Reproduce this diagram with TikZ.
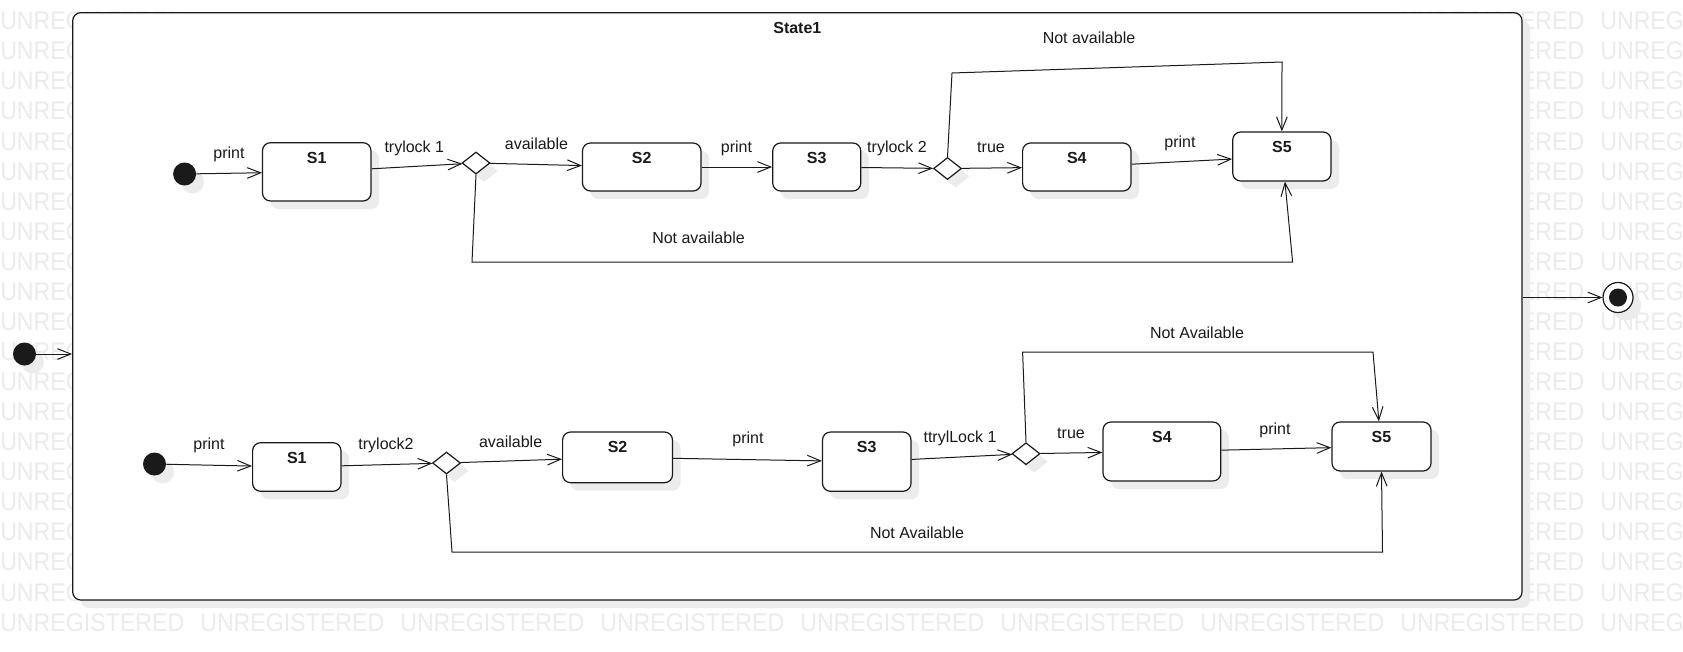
\documentclass[tikz,border=0pt]{standalone}
\usepackage{fontspec}
\setmainfont{Liberation Sans}
\newfontfamily\wmfont[FakeStretch=0.91]{Liberation Sans}
\usetikzlibrary{arrows.meta,shapes.geometric,shadows,calc}

\definecolor{ink}{HTML}{1A1A1A}
\definecolor{wmgray}{HTML}{EBEBEB}
\definecolor{shade}{HTML}{ECECEC}

\tikzset{
  x=0.75pt, y=-0.75pt,
  shadowed/.style={drop shadow={shadow xshift=6pt, shadow yshift=-6pt, fill=shade, opacity=1}},
  lbl/.style={anchor=base, inner sep=0pt, text=ink, font=\fontsize{12pt}{14pt}\selectfont},
  wm/.style={anchor=west, inner sep=0pt, text=wmgray, font=\wmfont\fontsize{19.1pt}{22pt}\selectfont},
  statename/.style={anchor=base, inner sep=0pt, label distance=-15.75pt, text=ink,
    font=\bfseries\fontsize{12pt}{14pt}\selectfont},
  statebox/.style 2 args={draw=ink, line width=0.9pt, fill=white, rounded corners=6pt,
    minimum width=#1*0.75pt, minimum height=#2*0.75pt, inner sep=0pt, shadowed},
  choice/.style={diamond, draw=ink, line width=0.9pt, fill=white, minimum width=21pt,
    minimum height=16.5pt, inner sep=0pt, shadowed},
  startdot/.style={circle, fill=ink, minimum size=17.25pt, inner sep=0pt, shadowed},
  enddot/.style={circle, draw=ink, line width=0.9pt, fill=white, minimum size=22.5pt, inner sep=0pt,
    shadowed, path picture={\fill[ink] (path picture bounding box.center) circle[radius=6.75pt];}},
  tr/.style={draw=ink, line width=0.75pt, -{Straight Barb[length=10pt,width=8pt]}},
}

\begin{document}
\begin{tikzpicture}
\useasboundingbox (0,0) rectangle (1683,651);

% watermark around the composite state
\begin{scope}
  \clip (0,0) rectangle (1683,651);
  \foreach \r in {0,...,20}{
    \foreach \c in {0,7,8}{
      \node[wm] (wm-\r-\c) at ({\c*200},{21+\r*30.065}) {UNREGISTERED};
    }
  }
  \foreach \c in {1,...,6}{
    \node[wm] (wm-20-\c) at ({\c*200},{21+20*30.065}) {UNREGISTERED};
  }
\end{scope}

% composite state
\node[draw=ink, line width=0.9pt, fill=white, rounded corners=6pt, inner sep=0pt,
  minimum width=1449.3*0.75pt, minimum height=587.3*0.75pt, shadowed,
  label={[statename]north:State1}] (frame) at (797.35,306.35) {};

% outer pseudo states
\node[startdot] (L0) at (24.5,354) {};
\node[enddot] (F) at (1618,297.5) {};

% ---------- upper region ----------
\node[startdot] (T0) at (184.6,174) {};
\node[statebox={108.5}{58.3}, label={[statename]north:S1}] (S1) at (316.75,171.85) {};
\node[choice] (D1) at (476,163) {};
\node[statebox={118.5}{48}, label={[statename]north:S2}] (S2) at (641.75,167) {};
\node[statebox={88.1}{48}, label={[statename]north:S3}] (S3) at (816.75,167) {};
\node[choice] (D2) at (947.5,168.5) {};
\node[statebox={108.4}{48}, label={[statename]north:S4}] (S4) at (1076.8,167) {};
\node[statebox={98.3}{49}, label={[statename]north:S5}] (S5) at (1281.85,156.5) {};

% ---------- lower region ----------
\node[startdot] (B0) at (154.5,464) {};
\node[statebox={88.4}{48.6}, label={[statename]north:S1}] (bS1) at (296.8,467) {};
\node[choice] (bD1) at (446.5,463) {};
\node[statebox={109.9}{50.7}, label={[statename]north:S2}] (bS2) at (617.55,457.35) {};
\node[statebox={88.5}{59.3}, label={[statename]north:S3}] (bS3) at (866.75,461.65) {};
\node[choice] (bD2) at (1026,453.7) {};
\node[statebox={117.8}{59}, label={[statename]north:S4}] (bS4) at (1161.9,451.5) {};
\node[statebox={99}{49}, label={[statename]north:S5}] (bS5) at (1381.5,446.5) {};

% bend points of the bypass transitions
\coordinate (u1) at (952,73);
\coordinate (u2) at (1282,62);
\coordinate (v1) at (472,262);
\coordinate (v2) at (1292.6,262);
\coordinate (w1) at (1022.6,352);
\coordinate (w2) at (1373,352);
\coordinate (z1) at (452,552);
\coordinate (z2) at (1382.5,552);

% transitions
\draw[tr] (L0) -- (L0 -| frame.west);
\draw[tr] (frame.east |- F) -- (F);

\draw[tr] (T0) -- (S1);
\draw[tr] (S1) -- (D1);
\draw[tr] (D1) -- (S2);
\draw[tr] (S2) -- (S3);
\draw[tr] (S3) -- (D2);
\draw[tr] (D2) -- (S4);
\draw[tr] (S4) -- (S5);
\draw[tr] (D2.north) -- (u1) -- (u2) -- (S5.north);
\draw[tr] (D1.south) -- (v1) -- (v2) -- (S5.-83);

\draw[tr] (B0) -- (bS1);
\draw[tr] (bS1) -- (bD1);
\draw[tr] (bD1) -- (bS2);
\draw[tr] (bS2) -- (bS3);
\draw[tr] (bS3) -- (bD2);
\draw[tr] (bD2) -- (bS4);
\draw[tr] (bS4) -- (bS5);
\draw[tr] (bD2.north) -- (w1) -- (w2) -- (bS5.96);
\draw[tr] (bD1.south) -- (z1) -- (z2) -- (bS5.south);

% transition labels, upper region
\node[lbl] (t1) at (229,158.5) {print};
\node[lbl] (t2) at (414.3,152.5) {trylock 1};
\node[lbl] (t3) at (536.5,149.5) {available};
\node[lbl] (t4) at (736.5,152.5) {print};
\node[lbl] (t5) at (897,152.5) {trylock 2};
\node[lbl] (t6) at (991,152.5) {true};
\node[lbl] (t7) at (1180,147.5) {print};
\node[lbl] (t8) at (1089,43) {Not available};
\node[lbl] (t9) at (698.5,243) {Not available};

% transition labels, lower region
\node[lbl] (b1) at (209,449.5) {print};
\node[lbl] (b2) at (386,449.5) {trylock2};
\node[lbl] (b3) at (510.6,447.5) {available};
\node[lbl] (b4) at (748,443.5) {print};
\node[lbl] (b5) at (960,442) {ttrylLock 1};
\node[lbl] (b6) at (1071,438) {true};
\node[lbl] (b7) at (1275,434.5) {print};
\node[lbl] (b8) at (1197,338) {Not Available};
\node[lbl] (b9) at (917,538) {Not Available};
\end{tikzpicture}
\end{document}
